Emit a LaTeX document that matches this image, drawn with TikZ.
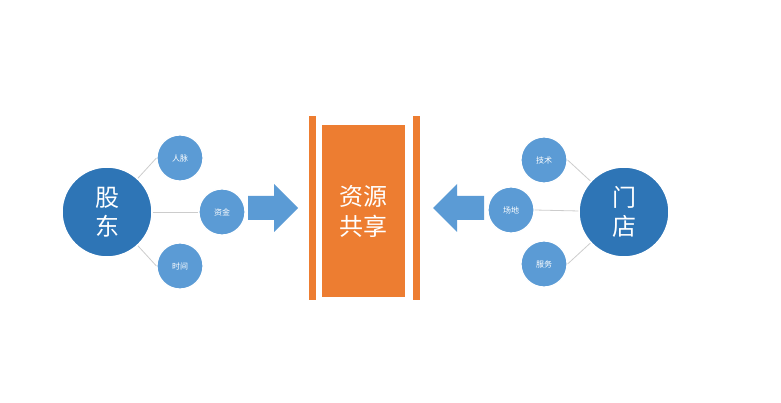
\documentclass[tikz,border=0pt]{standalone}
\usepackage{fontspec}
\newfontfamily\cjk{Noto Sans CJK SC}
\definecolor{dblue}{HTML}{2E75B6}
\definecolor{lblue}{HTML}{5B9BD5}
\definecolor{org}{HTML}{ED7D31}
\begin{document}
\begin{tikzpicture}[x=1pt,y=-1pt,
 big/.style={circle,fill=dblue,draw=white,line width=1.5pt,minimum size=90pt,inner sep=0pt,text=white,font=\cjk\fontsize{24}{29}\selectfont,align=center},
 small/.style={circle,fill=lblue,draw=white,line width=1.2pt,minimum size=46pt,inner sep=0pt,text=white,font=\cjk\fontsize{8}{9}\selectfont},
 conn/.style={draw=gray!40,line width=0.8pt},
 arr/.style={fill=lblue},
 bar/.style={fill=org}]
\useasboundingbox (0,0) rectangle (781,403);
\node[big] (gd) at (107,212) {股\\东};
\node[big] (md) at (624,212) {门\\店};
\node[small] (rm) at (180,158) {人脉};
\node[small] (zj) at (222,212) {资金};
\node[small] (sj) at (180,266) {时间};
\node[small] (js) at (544,160) {技术};
\node[small] (cd) at (511,210) {场地};
\node[small] (fw) at (544,264) {服务};
\draw[conn] (gd) -- (rm.west); \draw[conn] (gd) -- (zj.west); \draw[conn] (gd) -- (sj.west);
\draw[conn] (md) -- (js.east); \draw[conn] (md) -- (cd.east); \draw[conn] (md) -- (fw.east);
\fill[arr] (248,196) -- (274,196) -- (274,184) -- (298,208) -- (274,232) -- (274,220) -- (248,220) -- cycle;
\fill[arr] (484,196) -- (457,196) -- (457,184) -- (433,208) -- (457,232) -- (457,220) -- (484,220) -- cycle;
\fill[bar] (309,116) rectangle (316,300);
\fill[bar] (413,116) rectangle (420,300);
\node[fill=org,minimum width=83pt,minimum height=172pt,inner sep=0pt,text=white,font=\cjk\fontsize{24}{30}\selectfont,align=center] (c) at (363.5,211) {资源\\共享};
\end{tikzpicture}
\end{document}
